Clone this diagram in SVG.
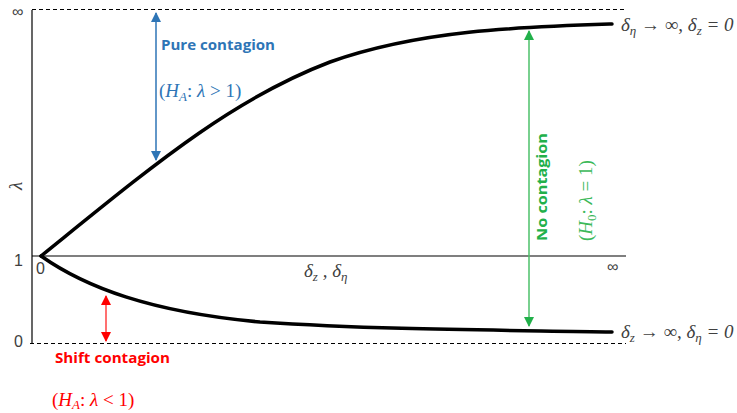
<svg xmlns="http://www.w3.org/2000/svg" width="737" height="413" viewBox="0 0 737 413">
<style>
.axis{stroke:#000;stroke-width:1.2;fill:none}
.dash{stroke:#000;stroke-width:1;stroke-dasharray:4,3;fill:none}
.curve{stroke:#000;stroke-width:3.5;fill:none;stroke-linecap:round}
.lbl{font-family:"Liberation Sans",Arial,sans-serif;font-size:16px;fill:#404040}
.math{font-family:"Liberation Serif","Times New Roman",serif;font-size:19px}
.ttl{font-family:"Open Sans","Liberation Sans",sans-serif;font-size:15px;font-weight:bold}
</style>
<defs>
<marker id="ab" viewBox="0 0 10 10" refX="9" refY="5" markerWidth="10" markerHeight="10" markerUnits="userSpaceOnUse" orient="auto-start-reverse"><path d="M0,0 L10,5 L0,10 Z" fill="#2E75B6"/></marker>
<marker id="ag" viewBox="0 0 10 10" refX="9" refY="5" markerWidth="10" markerHeight="10" markerUnits="userSpaceOnUse" orient="auto-start-reverse"><path d="M0,0 L10,5 L0,10 Z" fill="#22B04A"/></marker>
<marker id="ar" viewBox="0 0 10 10" refX="9" refY="5" markerWidth="10" markerHeight="10" markerUnits="userSpaceOnUse" orient="auto-start-reverse"><path d="M0,0 L10,5 L0,10 Z" fill="#FF0000"/></marker>
</defs>
<g id="axes">
<line class="axis" x1="32" y1="10" x2="32" y2="343" stroke="#888"/>
<line class="axis" x1="32" y1="256" x2="626" y2="256"/>
<line class="dash" x1="32" y1="9.5" x2="626" y2="9.5"/>
<line class="dash" x1="30" y1="343.5" x2="626" y2="343.5"/>
<text class="lbl" x="12" y="17" font-size="14">∞</text>
<text class="lbl" x="14" y="266">1</text>
<text class="lbl" x="14" y="347">0</text>
<text class="lbl" x="36" y="274">0</text>
<text class="lbl" x="607" y="272" font-size="15">∞</text>
<text class="math" x="0" y="0" fill="#404040" font-style="italic" transform="translate(22,190) rotate(-90)" font-size="16">λ</text>
<text class="math" x="304" y="277" fill="#404040" font-style="italic" font-size="18">δ<tspan font-size="13" dy="4">z</tspan><tspan dy="-4"> , δ</tspan><tspan font-size="13" dy="4">η</tspan></text>
</g>
<g id="curves">
<path class="curve" d="M41,256 C150,168 230,100 330,62 C420,30 520,27 612,24"/>
<path class="curve" d="M41,256 C85,287 150,312 260,322 C380,330 500,330 612,332"/>
</g>
<g id="connectors">
<line x1="156" y1="13" x2="156" y2="160" stroke="#2E75B6" stroke-width="1.5" marker-start="url(#ab)" marker-end="url(#ab)"/>
<line x1="529" y1="31" x2="529" y2="326" stroke="#4CC06A" stroke-width="1.5" marker-start="url(#ag)" marker-end="url(#ag)"/>
<line x1="106" y1="296" x2="106" y2="341" stroke="#FF4040" stroke-width="1.5" marker-start="url(#ar)" marker-end="url(#ar)"/>
</g>
<g id="pure">
<text class="ttl" x="161" y="50" fill="#2E75B6" textLength="114" lengthAdjust="spacingAndGlyphs">Pure contagion</text>
<text class="math" x="159" y="97" fill="#2E75B6">(<tspan font-style="italic">H</tspan><tspan font-style="italic" font-size="13" dy="4">A</tspan><tspan dy="-4">: </tspan><tspan font-style="italic">λ</tspan> &gt; 1)</text>
</g>
<g id="none">
<text class="ttl" fill="#22B04A" transform="translate(547,241) rotate(-90)" textLength="108" lengthAdjust="spacingAndGlyphs">No contagion</text>
<text class="math" fill="#3CB95A" transform="translate(592,241) rotate(-90)">(<tspan font-style="italic">H</tspan><tspan font-size="13" dy="4">0</tspan><tspan dy="-4">: </tspan><tspan font-style="italic">λ</tspan> = 1)</text>
</g>
<g id="shift">
<text class="ttl" x="55" y="363" fill="#FF0000" textLength="115" lengthAdjust="spacingAndGlyphs">Shift contagion</text>
<text class="math" x="52" y="406" fill="#FF0000">(<tspan font-style="italic">H</tspan><tspan font-style="italic" font-size="13" dy="3">A</tspan><tspan dy="-3">: </tspan><tspan font-style="italic">λ</tspan> &lt; 1)</text>
</g>
<g id="limits">
<text class="math" x="621" y="31" fill="#404040" font-style="italic" font-size="19">δ<tspan font-size="13" dy="4">η</tspan><tspan dy="-4" font-style="normal"> → ∞, </tspan>δ<tspan font-size="13" dy="4">z</tspan><tspan dy="-4"> = 0</tspan></text>
<text class="math" x="621" y="338" fill="#404040" font-style="italic" font-size="19">δ<tspan font-size="13" dy="4">z</tspan><tspan dy="-4" font-style="normal"> → ∞, </tspan>δ<tspan font-size="13" dy="4">η</tspan><tspan dy="-4"> = 0</tspan></text>
</g>
</svg>
